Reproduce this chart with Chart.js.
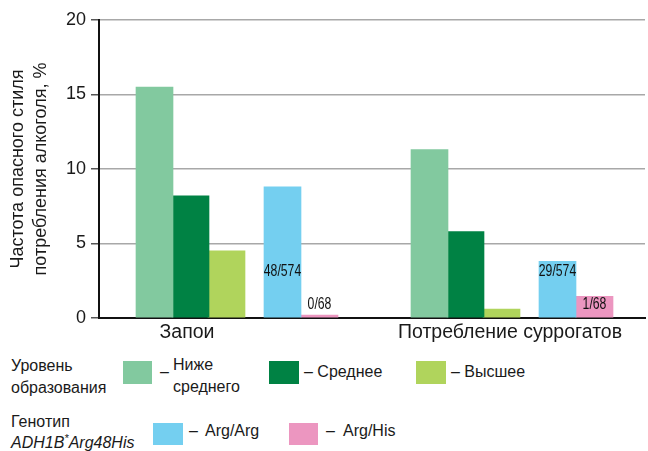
<!DOCTYPE html>
<html>
<head>
<meta charset="utf-8">
<script src="https://cdn.jsdelivr.net/npm/chart.js@4"></script>
<style>
  body { margin: 0; background: #fff; font-family: "Liberation Sans", Arial, sans-serif; color: #1a1a1a; }
  #wrap { position: relative; width: 648px; height: 451px; overflow: hidden; }
  #chartBox { position: absolute; left: 0; top: 0; width: 648px; height: 345px; }
  .lg { position: absolute; font-size: 16px; line-height: 22px; white-space: nowrap; }
  .lg2 { position: absolute; font-size: 16px; line-height: 21px; white-space: nowrap; }
  .sw { position: absolute; }
  sup { font-size: 11px; line-height: 0; }
</style>
</head>
<body>
<div id="wrap">
  <div id="chartBox"><canvas id="riskChart"></canvas></div>

  <div class="lg" style="left:11px; top:355px;">Уровень<br>образования</div>
  <div class="sw" style="left:123px; top:361px; width:29px; height:23px; background:#82c99f;"></div>
  <div class="lg" style="left:160px; top:361px;">–</div>
  <div class="lg" style="left:173px; top:354px;">Ниже<br>среднего</div>
  <div class="sw" style="left:269px; top:361px; width:30px; height:23px; background:#008244;"></div>
  <div class="lg" style="left:304px; top:361px;">– Среднее</div>
  <div class="sw" style="left:416px; top:361px; width:30px; height:23px; background:#b0d45c;"></div>
  <div class="lg" style="left:451px; top:361px;">– Высшее</div>

  <div class="lg2" style="left:11px; top:411px;">Генотип<br><i>ADH1B<sup>*</sup>Arg48His</i></div>
  <div class="sw" style="left:153px; top:423px; width:30px; height:22px; background:#74cff0;"></div>
  <div class="lg" style="left:189px; top:420px;">–</div>
  <div class="lg" style="left:205px; top:420px;">Arg/Arg</div>
  <div class="sw" style="left:289px; top:423px; width:29px; height:22px; background:#ec96c0;"></div>
  <div class="lg" style="left:326px; top:420px;">–</div>
  <div class="lg" style="left:343px; top:420px;">Arg/His</div>
</div>

<script>
// data, %
const categories = ['Запои', 'Потребление суррогатов'];
const educationLevels = ['Ниже среднего', 'Среднее', 'Высшее'];
const genotypes = ['Arg/Arg', 'Arg/His'];
const belowSecondary = [15.5, 11.3];
const secondary = [8.2, 5.8];
const higher = [4.5, 0.6];
const argArg = [8.8, 3.8];
const argHis = [0, 1.45];
const argArgLabels = ['48/574', '29/574'];
const argHisLabels = ['0/68', '1/68'];

// layout (pixels per group step, bar offsets inside a group)
const PX = 275;
const barOffsets = [-36, 0, 36, 92, 129].map(v => v / PX);
const labelPos = [-3.5 / PX, 319.5 / PX];
const colors = ['#82c99f', '#008244', '#b0d45c', '#74cff0', '#ec96c0'];
const FONT = '"Liberation Sans", Arial, sans-serif';

const series = [belowSecondary, secondary, higher, argArg, argHis];
const names = educationLevels.concat(genotypes);

// the n/N counts on the genotype bars, in a narrow face
const pairLabels = {
    id: 'pairLabels',
    afterDatasetsDraw(chart) {
        const ctx = chart.ctx;
        const y = chart.scales.y;
        [[3, argArgLabels, 3.1], [4, argHisLabels, 0.94]].forEach(([di, texts, level]) => {
            chart.getDatasetMeta(di).data.forEach((bar, i) => {
                ctx.save();
                ctx.translate(bar.x, y.getPixelForValue(level));
                ctx.scale(0.72, 1);
                ctx.font = '17px ' + FONT;
                ctx.fillStyle = '#111';
                ctx.textAlign = 'center';
                ctx.textBaseline = 'middle';
                ctx.fillText(texts[i], 0, 0);
                ctx.restore();
            });
        });
    }
};

document.addEventListener('DOMContentLoaded', function() {
    const ctx = document.getElementById('riskChart').getContext('2d');

    new Chart(ctx, {
        type: 'bar',
        data: {
            datasets: series.map((vals, k) => ({
                label: names[k],
                data: vals.map((v, i) => ({ x: i + barOffsets[k], y: v })),
                backgroundColor: colors[k],
                barThickness: 37,
                grouped: false,
                minBarLength: k === 4 ? 3 : 0
            }))
        },
        options: {
            responsive: true,
            maintainAspectRatio: false,
            animation: false,
            layout: { padding: { top: 20, right: 3, left: 0, bottom: 0 } },
            plugins: {
                legend: { display: false },
                tooltip: { enabled: false }
            },
            scales: {
                x: {
                    type: 'linear',
                    offset: false,
                    min: -91.5 / PX,
                    max: 454.5 / PX,
                    grid: { display: false, drawTicks: false },
                    border: { color: '#111', width: 2 },
                    afterBuildTicks: s => { s.ticks = labelPos.map(v => ({ value: v })); },
                    afterFit: s => { s.height = 27; },
                    ticks: {
                        autoSkip: false,
                        maxRotation: 0,
                        padding: 3,
                        color: '#1a1a1a',
                        font: { size: 19.5, family: FONT },
                        callback: (v, i) => categories[i]
                    }
                },
                y: {
                    min: 0,
                    max: 20,
                    afterFit: s => { s.width = 99; },
                    ticks: { stepSize: 5, padding: 5, color: '#1a1a1a', font: { size: 18, family: FONT } },
                    grid: {
                        color: c => c.tick.value === 0 ? 'rgba(0,0,0,0)' : '#a8a8a8',
                        lineWidth: 1.5,
                        tickColor: '#555',
                        tickLength: 8
                    },
                    border: { color: '#111', width: 2 },
                    title: {
                        display: true,
                        text: ['Частота опасного стиля', 'потребления алкоголя, %'],
                        color: '#1a1a1a',
                        font: { size: 18, family: FONT, lineHeight: 1.3 },
                        padding: { top: 6, bottom: 0 }
                    }
                }
            }
        },
        plugins: [pairLabels]
    });
});
</script>
</body>
</html>
